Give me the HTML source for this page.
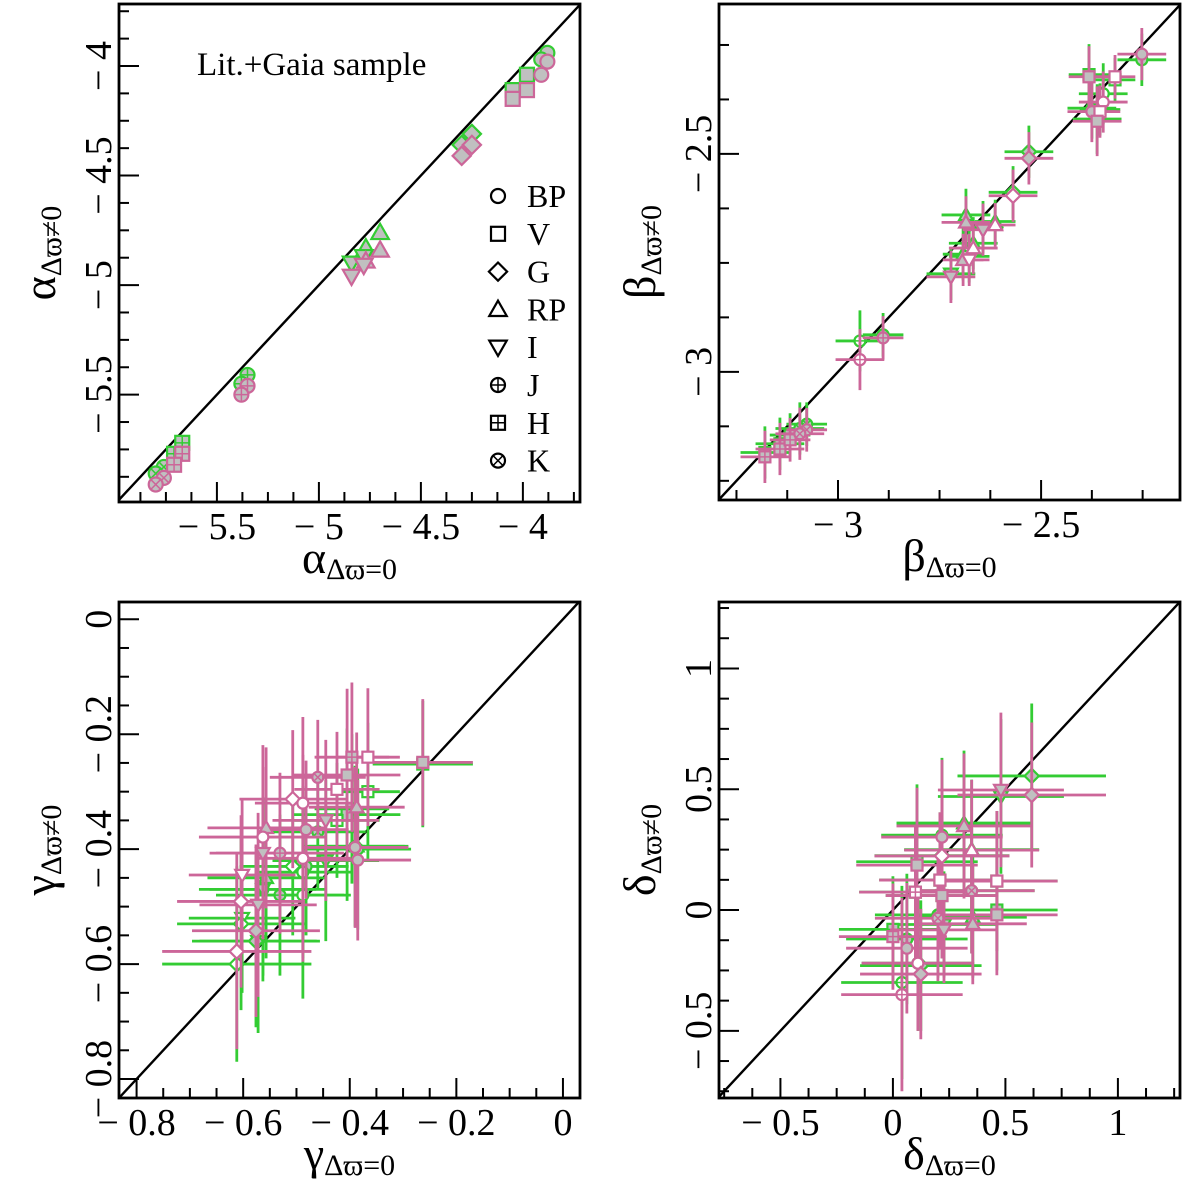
<!DOCTYPE html>
<html><head><meta charset="utf-8"><style>
html,body{margin:0;padding:0;background:#fff;overflow:hidden;}
svg{display:block;font-family:"Liberation Serif","DejaVu Serif",serif;}
</style></head><body>
<svg id="fig" width="1200" height="1180" viewBox="0 0 1200 1180" xmlns="http://www.w3.org/2000/svg"></svg>
<script>
// ---------- Panel A (alpha) ----------
const aShapes = ["BP","BP","V","V","G","G","RP","RP","I","I","J","J","H","H","K","K"];
const aX      = [-3.88,-3.91,-3.98,-4.05,-4.25,-4.30,-4.70,-4.77,-4.84,-4.78,-5.35,-5.38,-5.67,-5.71,-5.76,-5.80];
const aYGreen = [-3.94,-3.97,-4.04,-4.11,-4.31,-4.36,-4.76,-4.83,-4.90,-4.87,-5.41,-5.45,-5.72,-5.77,-5.83,-5.86];
const aYPink  = [-3.98,-4.04,-4.11,-4.15,-4.36,-4.41,-4.84,-4.89,-4.96,-4.91,-5.46,-5.50,-5.77,-5.82,-5.88,-5.91];
const aFill   = [1,1,1,1,1,1,1,1,1,1,1,1,1,1,1,1];
const aXErr   = [0,0,0,0,0,0,0,0,0,0,0,0,0,0,0,0];
const aYErr   = [0,0,0,0,0,0,0,0,0,0,0,0,0,0,0,0];

// ---------- Panel B (beta) ----------
const bShapes = ["BP","V","V","BP","BP","V","V","G","G","RP","I","RP","RP","RP","I","I","J","J","H","H","H","K","K"];
const bX      = [-2.252,-2.382,-2.318,-2.347,-2.375,-2.355,-2.362,-2.53,-2.569,-2.685,-2.643,-2.613,-2.667,-2.692,-2.677,-2.722,-2.946,-2.889,-3.18,-3.143,-3.118,-3.077,-3.094];
const bYPink  = [-2.271,-2.323,-2.323,-2.381,-2.403,-2.403,-2.425,-2.51,-2.596,-2.657,-2.674,-2.663,-2.716,-2.743,-2.743,-2.782,-2.972,-2.922,-3.195,-3.177,-3.156,-3.133,-3.142];
const bYGreen = [-2.284,-2.318,-2.330,-2.362,-2.395,-2.398,-2.420,-2.495,-2.588,-2.640,-2.668,-2.655,-2.705,-2.730,-2.735,-2.775,-2.929,-2.915,-3.185,-3.165,-3.145,-3.120,-3.130];
const bFill   = [1,1,0,0,1,0,1,1,0,1,1,0,0,1,0,1,0,1,1,1,1,1,1];
const bXErr   = [0.06,0.05,0.05,0.06,0.06,0.05,0.06,0.06,0.06,0.06,0.05,0.05,0.06,0.05,0.05,0.06,0.06,0.05,0.06,0.06,0.05,0.05,0.06];
const bYErr   = [0.06,0.07,0.05,0.07,0.07,0.06,0.08,0.06,0.06,0.06,0.06,0.05,0.06,0.06,0.06,0.06,0.07,0.05,0.06,0.06,0.05,0.05,0.06];

// ---------- Panel C (gamma) ----------
const cShapes = ["V","V","H","V","V","K","RP","I","BP","G","BP","RP","BP","I","J","BP","BP","BP","I","G","I","G","G"];
const cX      = [-0.263,-0.366,-0.396,-0.405,-0.424,-0.46,-0.387,-0.445,-0.482,-0.507,-0.488,-0.557,-0.563,-0.563,-0.531,-0.488,-0.385,-0.39,-0.602,-0.604,-0.572,-0.576,-0.612];
const cYPink  = [-0.249,-0.240,-0.240,-0.271,-0.296,-0.275,-0.327,-0.350,-0.366,-0.313,-0.320,-0.363,-0.379,-0.407,-0.407,-0.416,-0.419,-0.397,-0.445,-0.491,-0.497,-0.542,-0.578];
const cYGreen = [-0.252,-0.300,-0.330,-0.340,-0.350,-0.370,-0.395,-0.420,-0.430,-0.430,-0.440,-0.450,-0.470,-0.470,-0.480,-0.480,-0.400,-0.395,-0.520,-0.530,-0.560,-0.560,-0.600];
const cFill   = [1,0,1,1,0,1,1,1,1,0,0,1,0,1,1,0,1,1,0,0,1,1,0];
const cXErr   = [0.094,0.06,0.07,0.10,0.08,0.09,0.09,0.10,0.08,0.10,0.09,0.11,0.12,0.10,0.12,0.09,0.10,0.10,0.10,0.12,0.11,0.12,0.14];
const cYErr   = [0.11,0.12,0.13,0.15,0.10,0.10,0.13,0.14,0.12,0.12,0.15,0.14,0.16,0.15,0.14,0.18,0.14,0.14,0.13,0.15,0.16,0.15,0.17];

// ---------- Panel D (delta) ----------
const dShapes = ["G","I","RP","BP","V","G","RP","V","V","K","V","V","RP","I","K","H","BP","BP","G","J","H"];
const dX      = [0.617,0.48,0.316,0.218,0.107,0.218,0.35,0.462,0.209,0.35,0.218,0.462,0.355,0.227,0.20,0.0,0.062,0.111,0.124,0.04,0.10];
const dYPink  = [0.476,0.497,0.348,0.302,0.186,0.224,0.248,0.12,0.124,0.08,0.06,-0.02,-0.057,-0.082,-0.034,-0.11,-0.158,-0.22,-0.265,-0.35,0.074];
const dYGreen = [0.555,0.470,0.360,0.310,0.200,0.225,0.250,0.12,0.124,0.08,0.06,0.000,-0.030,-0.060,-0.020,-0.08,-0.120,-0.22,-0.230,-0.30,0.074];
const dFill   = [1,1,1,1,1,0,0,0,0,1,1,1,1,1,1,1,1,0,1,0,0];
const dXErr   = [0.33,0.28,0.30,0.27,0.27,0.30,0.30,0.27,0.27,0.28,0.25,0.27,0.24,0.24,0.28,0.24,0.27,0.25,0.27,0.27,0.25];
const dYErr   = [0.30,0.32,0.30,0.32,0.32,0.27,0.29,0.29,0.28,0.26,0.26,0.25,0.25,0.22,0.26,0.22,0.27,0.28,0.27,0.40,0.28];

// ---------- tick labels ----------
const aTicks = [-5.5,-5,-4.5,-4];
const bTicks = [-3,-2.5];
const cTicks = [-0.8,-0.6,-0.4,-0.2,0];
const dTicks = [-0.5,0,0.5,1];
const legendLabels = ["BP","V","G","RP","I","J","H","K"];

const NS = "http://www.w3.org/2000/svg";
const svg = document.getElementById("fig");
const GREEN = "#33cc33", PINK = "#cc6699", GRAY = "#c0c0c0";

function mk(tag, attrs, parent) {
  const e = document.createElementNS(NS, tag);
  for (const k in attrs) e.setAttribute(k, attrs[k]);
  (parent || svg).appendChild(e);
  return e;
}
function fmt(v) {
  if (v < 0) return "\u2212 " + String(Math.abs(v));
  return String(v);
}

function marker(g, shape, cx, cy, r, stroke, fill) {
  const sw = 2.2;
  let el;
  if (shape === "BP" || shape === "J" || shape === "K") {
    el = mk("circle", {cx:cx, cy:cy, r:r, fill:fill, stroke:stroke, "stroke-width":sw}, g);
    if (shape === "J") mk("path", {d:`M${cx-r} ${cy}H${cx+r}M${cx} ${cy-r}V${cy+r}`, stroke:stroke, "stroke-width":1.5, fill:"none"}, g);
    if (shape === "K") { const q = r*0.7; mk("path", {d:`M${cx-q} ${cy-q}L${cx+q} ${cy+q}M${cx-q} ${cy+q}L${cx+q} ${cy-q}`, stroke:stroke, "stroke-width":1.5, fill:"none"}, g); }
  } else if (shape === "V" || shape === "H") {
    el = mk("rect", {x:cx-r, y:cy-r, width:2*r, height:2*r, fill:fill, stroke:stroke, "stroke-width":sw}, g);
    if (shape === "H") mk("path", {d:`M${cx-r} ${cy}H${cx+r}M${cx} ${cy-r}V${cy+r}`, stroke:stroke, "stroke-width":1.5, fill:"none"}, g);
  } else if (shape === "G") {
    const q = r*1.3;
    el = mk("polygon", {points:`${cx},${cy-q} ${cx+q},${cy} ${cx},${cy+q} ${cx-q},${cy}`, fill:fill, stroke:stroke, "stroke-width":sw}, g);
  } else if (shape === "RP") {
    const q = r*1.25;
    el = mk("polygon", {points:`${cx},${cy-q} ${cx+q},${cy+q*0.75} ${cx-q},${cy+q*0.75}`, fill:fill, stroke:stroke, "stroke-width":sw}, g);
  } else {
    const q = r*1.25;
    el = mk("polygon", {points:`${cx},${cy+q} ${cx+q},${cy-q*0.75} ${cx-q},${cy-q*0.75}`, fill:fill, stroke:stroke, "stroke-width":sw}, g);
  }
  return el;
}

function panel(cfg) {
  const g = mk("g", {});
  
  
  const [L,T,R,B] = cfg.box;
  const sx = v => L + (v - cfg.xd[0]) / (cfg.xd[1]-cfg.xd[0]) * (R-L);
  const sy = v => B - (v - cfg.yd[0]) / (cfg.yd[1]-cfg.yd[0]) * (B-T);

  const cid = "clip-" + cfg.name;
  const cp = mk("clipPath", {id:cid}, g);
  mk("rect", {x:L, y:T, width:R-L, height:B-T}, cp);
  const plot = mk("g", {"clip-path":`url(#${cid})`}, g);
  
  

  const lo = Math.max(cfg.xd[0], cfg.yd[0]) - 1, hi = Math.min(cfg.xd[1], cfg.yd[1]) + 1;
  const diag = mk("line", {x1:sx(lo), y1:sy(lo), x2:sx(hi), y2:sy(hi), stroke:"#000", "stroke-width":2.4}, plot);
  
  

  const d = cfg.data;
  const r = cfg.r;
  [["green", d.yg, GREEN], ["pink", d.yp, PINK]].forEach(([nm, ys, col]) => {
    const sg = mk("g", {}, plot);
    
    
    for (let i = 0; i < d.x.length; i++) {
      if (d.xe[i] > 0 || d.ye[i] > 0) {
        const eb = mk("path", {d:`M${sx(d.x[i]-d.xe[i])} ${sy(ys[i])}H${sx(d.x[i]+d.xe[i])}M${sx(d.x[i])} ${sy(ys[i]-d.ye[i])}V${sy(ys[i]+d.ye[i])}`, stroke:col, "stroke-width":2.8, fill:"none"}, sg);
        
        
      }
    }
    for (let i = 0; i < d.x.length; i++) {
      const m = marker(sg, d.s[i], sx(d.x[i]), sy(ys[i]), r, col, d.f[i] ? GRAY : "#fff");
      
      
    }
  });

  const tg = mk("g", {stroke:"#000", "stroke-width":2, fill:"none"}, g);
  
  
  const eps = 1e-6;
  for (let v = Math.ceil(cfg.xd[0]/cfg.minor)*cfg.minor; v <= cfg.xd[1]; v += cfg.minor) {
    const major = cfg.ticks.some(t => Math.abs(t - v) < eps);
    mk("line", {x1:sx(v), x2:sx(v), y1:B, y2:B-(major?20:10)}, tg);
  }
  for (let v = Math.ceil(cfg.yd[0]/cfg.minor)*cfg.minor; v <= cfg.yd[1]; v += cfg.minor) {
    const major = cfg.ticks.some(t => Math.abs(t - v) < eps);
    mk("line", {y1:sy(v), y2:sy(v), x1:L, x2:L+(major?20:10)}, tg);
  }
  const fr = mk("rect", {x:L, y:T, width:R-L, height:B-T, fill:"none", stroke:"#000", "stroke-width":2.8}, g);
  
  

  cfg.ticks.forEach(t => {
    const xl = mk("text", {x:sx(t), y:B+37, "text-anchor":"middle", "font-size":38}, g);
    xl.textContent = fmt(t);
    
    
    const yl = mk("text", {x:0, y:0, "text-anchor":"middle", "font-size":38, transform:`translate(${L-8},${sy(t)}) rotate(-90)`}, g);
    yl.textContent = fmt(t);
    
    
  });

  const xt = mk("text", {x:(L+R)/2, y:B+71, "text-anchor":"middle", "font-size":46}, g);
  
  
  const t1 = mk("tspan", {}, xt); t1.textContent = cfg.sym;
  const t2 = mk("tspan", {"font-size":30, dy:6}, xt); t2.textContent = "\u0394\u03d6=0";
  const yt = mk("text", {x:0, y:0, "text-anchor":"middle", "font-size":46, transform:`translate(${L-64},${(T+B)/2}) rotate(-90)`}, g);
  
  
  const t3 = mk("tspan", {}, yt); t3.textContent = cfg.sym;
  const t4 = mk("tspan", {"font-size":30, dy:6}, yt); t4.textContent = "\u0394\u03d6\u22600";
  return {g, sx, sy};
}

panel({name:"panel-alpha", box:[119,4,580,502], xd:[-5.98,-3.72], yd:[-5.99,-3.717], ticks:aTicks, minor:0.125, sym:"\u03b1", r:7,
  data:{x:aX, yg:aYGreen, yp:aYPink, s:aShapes, f:aFill, xe:aXErr, ye:aYErr}});
panel({name:"panel-beta", box:[719,4,1180,500], xd:[-3.293,-2.158], yd:[-3.294,-2.156], ticks:bTicks, minor:0.125, sym:"\u03b2", r:5.5,
  data:{x:bX, yg:bYGreen, yp:bYPink, s:bShapes, f:bFill, xe:bXErr, ye:bYErr}});
panel({name:"panel-gamma", box:[119,602,580,1098], xd:[-0.833,0.032], yd:[-0.833,0.03], ticks:cTicks, minor:0.05, sym:"\u03b3", r:5.5,
  data:{x:cX, yg:cYGreen, yp:cYPink, s:cShapes, f:cFill, xe:cXErr, ye:cYErr}});
panel({name:"panel-delta", box:[719,602,1180,1098], xd:[-0.773,1.276], yd:[-0.778,1.275], ticks:dTicks, minor:0.125, sym:"\u03b4", r:5.5,
  data:{x:dX, yg:dYGreen, yp:dYPink, s:dShapes, f:dFill, xe:dXErr, ye:dYErr}});

const ann = mk("text", {x:197, y:75, "font-size":33});
ann.textContent = "Lit.+Gaia sample";



const lg = mk("g", {});


legendLabels.forEach((lab, i) => {
  const y = 196 + i * 37.8;
  const e = mk("g", {}, lg);
  
  
  marker(e, lab, 498, y, 7, "#000", "#fff");
  const t = mk("text", {x:527, y:y+11, "font-size":32}, e);
  t.textContent = lab;
});
</script>
</body></html>
